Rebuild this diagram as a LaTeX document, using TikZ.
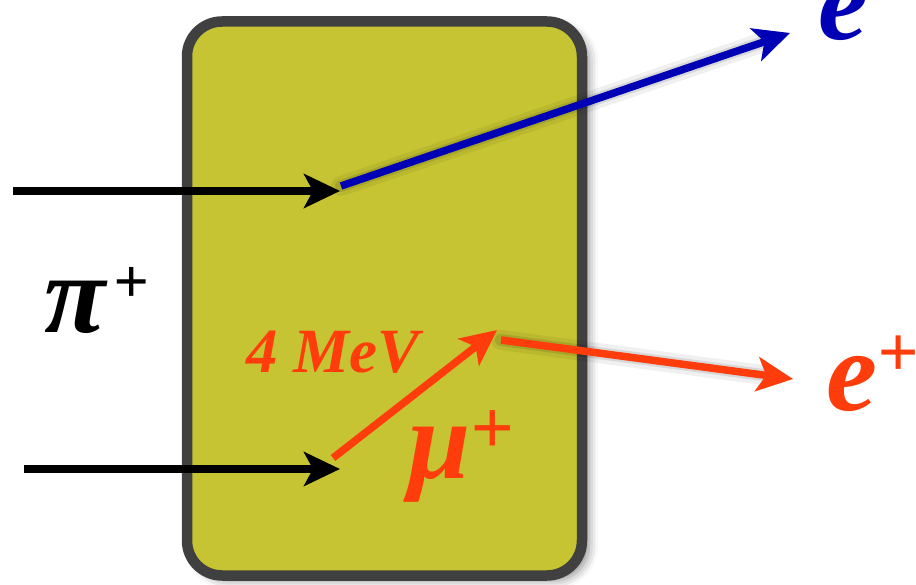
\documentclass[tikz,border=0pt]{standalone}
\usepackage{fontspec}
\setmainfont{Liberation Serif}
\newfontfamily\tbi{Liberation Serif Bold Italic}
\usetikzlibrary{arrows.meta,shadows.blur}
\definecolor{boxfill}{HTML}{C6C432}
\definecolor{boxedge}{HTML}{404040}
\definecolor{eblue}{HTML}{0000B4}
\definecolor{eorange}{HTML}{FF3D0C}
\tikzset{
  tipstyle/.style={-{Stealth[length=36pt,width=34pt,inset=9pt]}},
  ray/.style={tipstyle,line width=7.5pt},
  rayshadow/.style={tipstyle,line width=12pt,draw=black,opacity=0.10,line cap=round,shift={(4pt,9pt)}},
  lbl/.style={inner sep=0pt,anchor=base west},
}
\begin{document}
\begin{tikzpicture}[x=1pt,y=-1pt]
\useasboundingbox (0,0) rectangle (916,585);
% box
\node[draw=boxedge,fill=boxfill,line width=10.5pt,rounded corners=35pt,
      minimum width=395pt,minimum height=554pt,inner sep=0pt,
      blur shadow={shadow xshift=7pt,shadow yshift=-5pt,shadow blur radius=9pt,shadow opacity=45}]
      (box) at (384.5,298.5) {};
% coordinates
\coordinate (a1s) at (13,191);
\coordinate (a1e) at (340,191);
\coordinate (b1s) at (341,186);
\coordinate (b1e) at (790,33);
\coordinate (a2s) at (24,469);
\coordinate (a2e) at (340,469);
\coordinate (o1s) at (333,458);
\coordinate (o1e) at (497,330);
\coordinate (o2s) at (501,340);
\coordinate (o2e) at (793,379);
% shadows
\draw[rayshadow] (b1s) -- (b1e);
\draw[rayshadow] (o2s) -- (o2e);
\draw[rayshadow,opacity=0.06,line width=20pt] (b1s) -- (b1e);
\draw[rayshadow,opacity=0.06,line width=20pt] (o2s) -- (o2e);
% rays
\draw[ray,black] (a1s) -- (a1e);
\draw[ray,black] (a2s) -- (a2e);
\draw[ray,eblue] (b1s) -- (b1e);
\draw[ray,eorange] (o1s) -- (o1e);
\draw[ray,eorange] (o2s) -- (o2e);
% labels
\node[lbl,text=black] (pi) at (44,333)
  {\tbi\fontsize{112}{112}\selectfont π\hspace{8pt}\raisebox{30pt}{\fontsize{62}{62}\selectfont +}};
\node[lbl,text=eorange] (mev) at (246,373) {\tbi\fontsize{63}{63}\selectfont 4 MeV};
\node[lbl,text=eorange] (mu) at (408,478)
  {\tbi\fontsize{112}{112}\selectfont μ\raisebox{25pt}{\fontsize{76}{76}\selectfont +}};
\node[lbl,text=eorange] (e2) at (826,410)
  {\tbi\fontsize{115}{115}\selectfont e\raisebox{34pt}{\fontsize{72}{72}\selectfont +}};
\node[lbl,text=eblue] (e1) at (818,40)
  {\tbi\fontsize{112}{112}\selectfont e\raisebox{34pt}{\fontsize{72}{72}\selectfont +}};
\end{tikzpicture}
\end{document}
